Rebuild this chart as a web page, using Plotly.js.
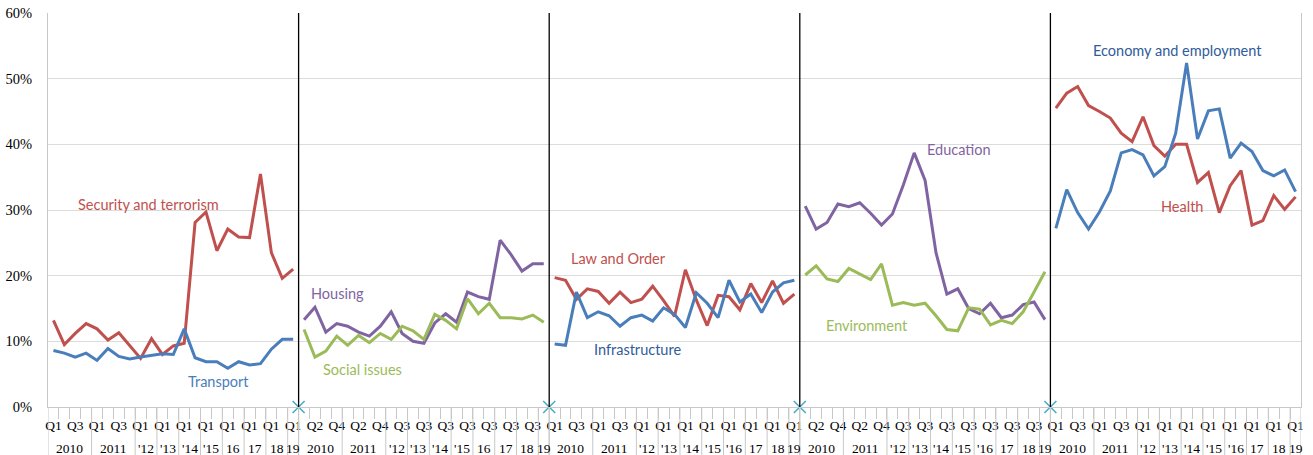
<!DOCTYPE html>
<html>
<head>
<meta charset="utf-8">
<script src="https://cdn.plot.ly/plotly-3.0.1.min.js"></script>
<style>html,body{margin:0;padding:0;background:#fff;}#chart{width:1313px;height:455px;}</style>
</head>
<body>
<div id="chart"></div>
<script>
// ---- Category structure (one panel = 23 quarters, Q1 2010 .. Q1 2019) ----
const quarters = ['Q1','Q2','Q3','Q4','Q1','Q2','Q3','Q4','Q1','Q3','Q1','Q3','Q1','Q3','Q1','Q3','Q1','Q3','Q1','Q3','Q1','Q3','Q1'];
const yearSpans = [4,4,2,2,2,2,2,2,2,1];
const yearsPanel1 = ['2010','2011',"'12","'13","'14","'15",'16','17','18','19'];
const yearsPanel2 = ['2010','2011',"'12","'13","'14","'15",'16','17','18','19'];
const yearsPanel3 = ['2010','2011',"'12","'13","'14","'15","'16",'17','18','19'];
const yearsPanel4 = ['2010','2011',"'12","'13","'14","'15","'16",'17','18','19'];
const yearsPanel5 = ['2010','2011',"'12","'13","'14","'15","'16",'17','18','19'];
const panelYears = [yearsPanel1, yearsPanel2, yearsPanel3, yearsPanel4, yearsPanel5];

// ---- Series values (%) ----
const securityTerrorism = [13.2,9.5,11.2,12.7,11.9,10.2,11.3,9.4,7.4,10.4,8.0,9.3,9.7,28.1,29.7,23.8,27.1,25.9,25.8,35.5,23.5,19.6,21.0];
const transport        = [8.6,8.2,7.6,8.2,7.1,8.9,7.7,7.3,7.6,7.9,8.1,8.0,11.9,7.5,6.9,6.9,5.9,6.9,6.4,6.6,8.8,10.3,10.3];
const housing          = [13.3,15.2,11.4,12.7,12.3,11.4,10.8,12.3,14.5,11.2,10.0,9.7,12.8,14.2,12.9,17.5,16.8,16.4,25.4,23.2,20.7,21.8,21.8];
const socialIssues     = [11.8,7.6,8.5,10.8,9.4,10.9,9.8,11.2,10.3,12.3,11.6,10.3,14.1,13.2,11.9,16.5,14.2,15.8,13.6,13.6,13.4,14.0,12.9];
const lawAndOrder      = [19.7,19.3,16.4,18.0,17.6,15.8,17.5,15.9,16.4,18.4,16.2,13.8,20.9,16.3,12.4,17.0,16.8,14.8,18.8,15.9,19.2,15.8,17.2];
const infrastructure   = [9.6,9.4,17.5,13.6,14.5,13.9,12.3,13.6,14.0,13.1,15.1,14.1,12.1,17.4,15.8,13.6,19.3,16.0,17.2,14.4,17.5,18.9,19.3];
const education        = [30.6,27.1,28.1,30.9,30.5,31.1,29.5,27.7,29.4,33.8,38.7,34.5,23.5,17.2,18.0,15.0,14.2,15.8,13.6,14.0,15.6,16.0,13.3];
const environment      = [20.1,21.5,19.5,19.1,21.1,20.2,19.4,21.8,15.5,15.9,15.5,15.8,13.9,11.8,11.6,15.1,14.9,12.5,13.2,12.7,14.5,17.5,20.6];
const economy          = [27.2,33.1,29.6,27.1,29.7,32.9,38.7,39.2,38.4,35.2,36.6,41.7,52.4,40.8,45.1,45.4,37.9,40.2,38.9,36.0,35.2,36.1,32.8];
const health           = [45.5,47.8,48.8,45.9,45.0,44.0,41.7,40.4,44.2,39.8,38.2,40.0,40.0,34.2,35.7,29.6,33.7,36.0,27.7,28.4,32.2,30.1,32.0];

const RED = '#C0504D', BLUE = '#4A7EBB', PURPLE = '#8064A2', GREEN = '#9BBB59', DARKBLUE = '#2F5C9A';
const N = quarters.length;
const NP = 5;

const series = [
  {name:'Security and terrorism', values: securityTerrorism, panel:0, color:RED},
  {name:'Transport', values: transport, panel:0, color:BLUE},
  {name:'Housing', values: housing, panel:1, color:PURPLE},
  {name:'Social issues', values: socialIssues, panel:1, color:GREEN},
  {name:'Law and Order', values: lawAndOrder, panel:2, color:RED},
  {name:'Infrastructure', values: infrastructure, panel:2, color:BLUE},
  {name:'Education', values: education, panel:3, color:PURPLE},
  {name:'Environment', values: environment, panel:3, color:GREEN},
  {name:'Health', values: health, panel:4, color:RED},
  {name:'Economy and employment', values: economy, panel:4, color:BLUE}
];

const traces = series.map(s => ({
  type:'scatter', mode:'lines', name:s.name,
  x: s.values.map((v,i) => s.panel*N + i),
  y: s.values,
  line:{color:s.color, width:3},
  hoverinfo:'skip'
}));

// panel separators (crosses at 0)
const sepX = [];
for (let p=1;p<NP;p++) sepX.push(p*N - 0.5);
traces.push({
  type:'scatter', mode:'markers', x: sepX, y: sepX.map(()=>0),
  marker:{symbol:'x-thin', size:12, line:{color:'#4BACC6', width:1.6}},
  cliponaxis:false, hoverinfo:'skip', showlegend:false
});
// dummy trace for label axis
traces.push({type:'scatter', mode:'markers', x:[0], y:[0], xaxis:'x2', marker:{opacity:0}, hoverinfo:'skip', showlegend:false});

// ticks
const boundaryTicks = [];
for (let k=0;k<NP*N-1;k++) boundaryTicks.push(k+0.5);
const qVals = [], qText = [];
for (let g=0; g<NP*N; g+=2) { qVals.push(g); qText.push(quarters[g % N]); }

const shapes = [];
const annotations = [];
const GRAY = '#C8C8C8';
const SERIF = 'Liberation Serif, Times New Roman, serif';
for (let p=0;p<NP;p++) {
  let start = p*N;
  const bounds = [start-0.5];
  panelYears[p].forEach((lab,j) => {
    const span = yearSpans[j];
    annotations.push({x: start + (span-1)/2, y:0, xref:'x', yref:'paper', yanchor:'top', yshift:-32,
      text: lab, showarrow:false, font:{family:SERIF, size:13.5, color:'#000'}});
    start += span;
    bounds.push(start-0.5);
  });
  bounds.forEach(b => shapes.push({type:'line', xref:'x', yref:'paper', x0:b, x1:b, y0:0, y1:-0.13,
     line:{color:GRAY, width:1}}));
}
for (let p=1;p<NP;p++) {
  shapes.push({type:'line', xref:'x', yref:'paper', x0:p*N-0.5, x1:p*N-0.5, y0:0, y1:1, line:{color:'#000', width:1.3}});
}

// series labels
const labelFont = 'Lato, "Open Sans", sans-serif';
const labels = [
  {t:'Security and terrorism', x:8.69, y:30.9, c:RED},
  {t:'Transport', x:15.11, y:3.9, c:BLUE},
  {t:'Housing', x:26.03, y:17.3, c:PURPLE},
  {t:'Social issues', x:28.32, y:5.7, c:GREEN},
  {t:'Law and Order', x:51.9, y:22.6, c:RED},
  {t:'Infrastructure', x:53.64, y:8.8, c:DARKBLUE},
  {t:'Education', x:83.09, y:39.15, c:PURPLE},
  {t:'Environment', x:74.65, y:12.44, c:GREEN},
  {t:'Economy and employment', x:103.18, y:54.27, c:DARKBLUE},
  {t:'Health', x:103.6, y:30.5, c:RED}
];
labels.forEach(l => annotations.push({x:l.x, y:l.y, xref:'x', yref:'y', text:l.t, showarrow:false,
  font:{family:labelFont, size:14.5, color:l.c}}));

const layout = {
  width:1313, height:455,
  margin:{l:48, r:12, t:13, b:48},
  paper_bgcolor:'#fff', plot_bgcolor:'#fff',
  showlegend:false,
  xaxis:{range:[-0.5, NP*N-0.5], tickmode:'array', tickvals:boundaryTicks, showticklabels:false,
    ticks:'outside', ticklen:11, tickcolor:GRAY, tickwidth:1, showgrid:false, zeroline:false,
    showline:true, linecolor:GRAY, linewidth:1},
  xaxis2:{overlaying:'x', anchor:'y', side:'bottom', range:[-0.5, NP*N-0.5], tickmode:'array',
    tickvals:qVals, ticktext:qText, tickangle:0, ticks:'outside', ticklen:6, tickcolor:'rgba(0,0,0,0)',
    showgrid:false, zeroline:false, showline:false,
    tickfont:{family:SERIF, size:13.5, color:'#000'}},
  yaxis:{range:[0,60], dtick:10, ticksuffix:'%', showgrid:true, gridcolor:'#DCDCDC', gridwidth:1,
    zeroline:false, showline:true, mirror:true, linecolor:GRAY, ticks:'', ticklabelstandoff:12,
    tickfont:{family:SERIF, size:14.5, color:'#000'}},
  shapes: shapes,
  annotations: annotations
};

Plotly.newPlot('chart', traces, layout, {staticPlot:true});
</script>
</body>
</html>
